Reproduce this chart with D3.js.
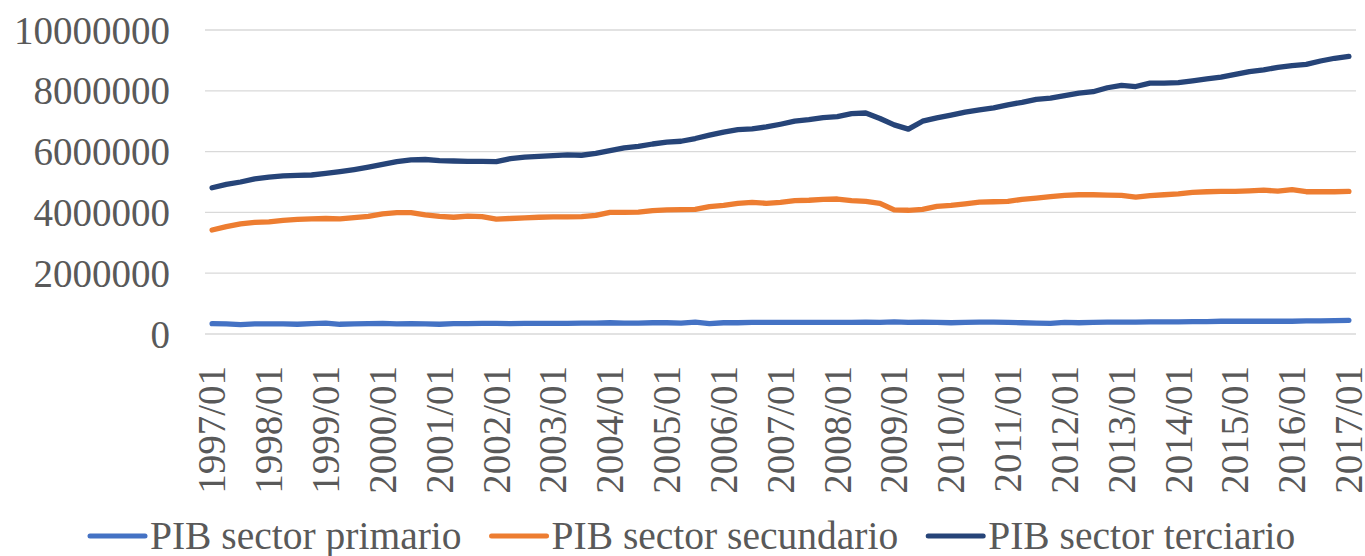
<!DOCTYPE html>
<head>
<meta charset="utf-8">
<style>
  body { margin: 0; background: #fff; }
  svg text { font-family: "Liberation Serif", "Times New Roman", serif; fill: #595959; }
</style>
</head>
<body>
<script src="https://d3js.org/d3.v7.min.js"></script>
<script>
// quarterly GDP by sector, 1997/01 .. 2017/01
var years = d3.range(1997, 2018);
var quarters = [];
years.forEach(function(y) {
	for (var q = 1; q <= 4; q++) {
		if (y === 2017 && q > 1) break;
		quarters.push(y + "/0" + q);
	}
});

var primario = [
	340000, 330000, 310000, 330000, 330000, 330000, 320000, 340000,
	360000, 320000, 330000, 340000, 350000, 330000, 340000, 330000,
	320000, 340000, 340000, 350000, 350000, 340000, 350000, 350000,
	350000, 350000, 360000, 360000, 370000, 360000, 360000, 370000,
	370000, 360000, 390000, 340000, 370000, 370000, 380000, 380000,
	380000, 380000, 380000, 380000, 380000, 380000, 390000, 380000,
	400000, 380000, 390000, 380000, 370000, 380000, 390000, 390000,
	380000, 370000, 360000, 350000, 380000, 370000, 380000, 390000,
	390000, 390000, 400000, 400000, 400000, 410000, 410000, 420000,
	420000, 420000, 420000, 420000, 420000, 430000, 430000, 440000,
	450000
];

var secundario = [
	3420000, 3530000, 3620000, 3670000, 3690000, 3740000, 3770000, 3790000,
	3800000, 3790000, 3830000, 3870000, 3950000, 3990000, 3990000, 3920000,
	3870000, 3840000, 3880000, 3860000, 3780000, 3800000, 3820000, 3840000,
	3850000, 3850000, 3860000, 3900000, 4000000, 4000000, 4010000, 4060000,
	4080000, 4090000, 4100000, 4190000, 4230000, 4300000, 4330000, 4300000,
	4330000, 4390000, 4400000, 4430000, 4440000, 4390000, 4360000, 4300000,
	4080000, 4070000, 4100000, 4200000, 4230000, 4280000, 4340000, 4350000,
	4360000, 4430000, 4470000, 4520000, 4560000, 4580000, 4580000, 4570000,
	4560000, 4500000, 4550000, 4580000, 4610000, 4660000, 4680000, 4690000,
	4690000, 4710000, 4730000, 4700000, 4750000, 4680000, 4680000, 4680000,
	4690000
];

var terciario = [
	4810000, 4920000, 5000000, 5100000, 5160000, 5200000, 5220000, 5230000,
	5280000, 5340000, 5410000, 5490000, 5580000, 5670000, 5730000, 5740000,
	5700000, 5690000, 5680000, 5680000, 5670000, 5770000, 5820000, 5840000,
	5870000, 5890000, 5880000, 5940000, 6030000, 6120000, 6170000, 6250000,
	6310000, 6340000, 6430000, 6540000, 6640000, 6720000, 6750000, 6810000,
	6900000, 7000000, 7050000, 7120000, 7150000, 7250000, 7270000, 7090000,
	6880000, 6740000, 7000000, 7110000, 7200000, 7300000, 7370000, 7440000,
	7540000, 7620000, 7720000, 7760000, 7840000, 7920000, 7970000, 8100000,
	8180000, 8140000, 8250000, 8250000, 8270000, 8330000, 8390000, 8450000,
	8540000, 8630000, 8690000, 8770000, 8830000, 8870000, 8980000, 9070000,
	9130000
];

var seriesNames = ["PIB sector primario", "PIB sector secundario", "PIB sector terciario"];
var seriesColors = ["#4472C4", "#ED7D31", "#264478"];
var yTicks = [0, 2000000, 4000000, 6000000, 8000000, 10000000];

(function() {
	var W = 1365, H = 556,
		plot = {left: 205, right: 1356, top: 30, bottom: 334},
		fontSize = 39;

	var svg = d3.select("body").append("svg")
		.attr("width", W)
		.attr("height", H);

	var sx = d3.scalePoint()
		.domain(quarters)
		.range([plot.left, plot.right])
		.padding(0.5);

	var sy = d3.scaleLinear()
		.domain([0, 10000000])
		.range([plot.bottom, plot.top]);

	// gridlines
	svg.append("g").selectAll("line")
		.data(yTicks)
		.join("line")
		.attr("x1", plot.left)
		.attr("x2", plot.right)
		.attr("y1", function(d) { return sy(d); })
		.attr("y2", function(d) { return sy(d); })
		.attr("stroke", "#d9d9d9")
		.attr("stroke-width", 1.3);

	// y labels
	svg.append("g").selectAll("text")
		.data(yTicks)
		.join("text")
		.attr("x", 170)
		.attr("y", function(d) { return sy(d); })
		.attr("dy", "0.35em")
		.attr("text-anchor", "end")
		.style("font-size", fontSize + "px")
		.text(function(d) { return d; });

	// x labels, one per year
	var xLabels = quarters.filter(function(q) { return q.slice(-2) === "01"; });
	svg.append("g").selectAll("text")
		.data(xLabels)
		.join("text")
		.attr("transform", function(d) { return "translate(" + sx(d) + ",366) rotate(-90)"; })
		.attr("dy", "0.34em")
		.attr("text-anchor", "end")
		.style("font-size", fontSize + "px")
		.text(function(d) { return d; });

	// lines
	var data = [primario, secundario, terciario];
	var line = d3.line()
		.x(function(d, i) { return sx(quarters[i]); })
		.y(function(d) { return sy(d); });

	svg.append("g").selectAll("path")
		.data(data)
		.join("path")
		.attr("d", function(d) { return line(d); })
		.attr("fill", "none")
		.attr("stroke", function(d, i) { return seriesColors[i]; })
		.attr("stroke-width", 5.3)
		.attr("stroke-linejoin", "round")
		.attr("stroke-linecap", "round");

	// legend
	var legend = svg.append("g");
	var items = legend.selectAll("g")
		.data(seriesNames)
		.join("g");
	items.append("line")
		.attr("x1", 0).attr("x2", 55)
		.attr("y1", 0).attr("y2", 0)
		.attr("stroke", function(d, i) { return seriesColors[i]; })
		.attr("stroke-width", 5)
		.attr("stroke-linecap", "round");
	items.append("text")
		.attr("x", 60)
		.attr("y", 13)
		.style("font-size", "39.5px")
		.text(function(d) { return d; });

	var widths = [];
	items.each(function() { widths.push(this.getBBox().width); });
	var gap = 30;
	var xpos = 90;
	items.attr("transform", function(d, i) {
		var t = "translate(" + xpos + ",536)";
		xpos += widths[i] + gap;
		return t;
	});
})();
</script>
</body>
